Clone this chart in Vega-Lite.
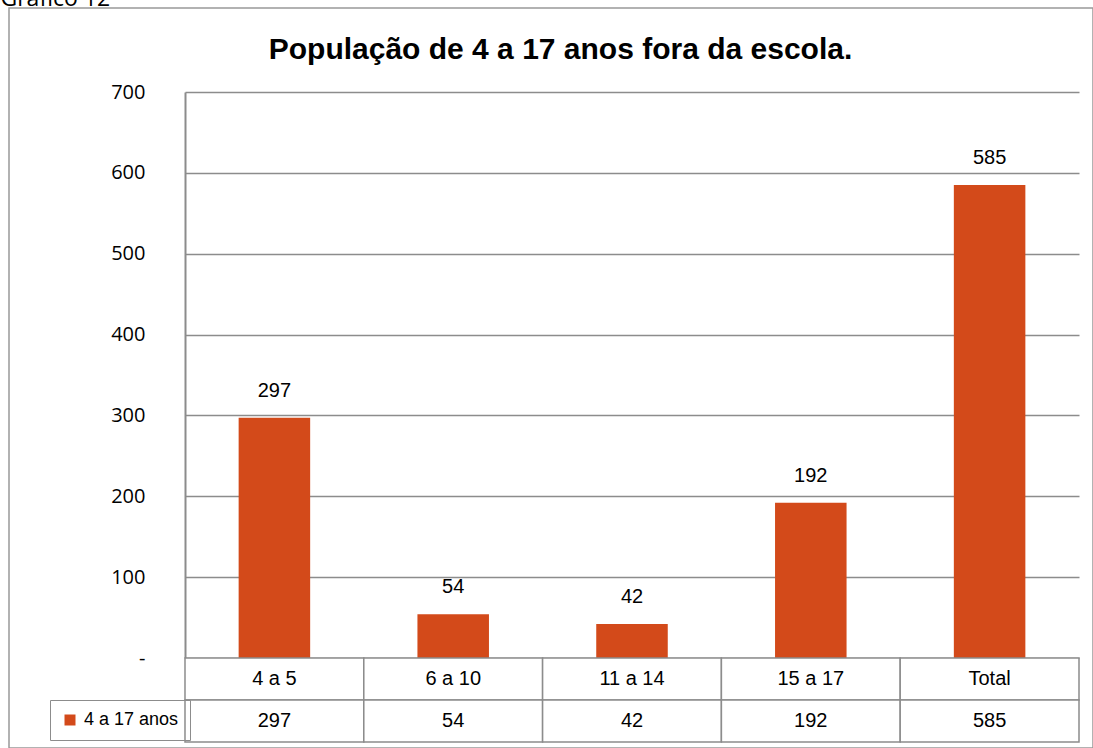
{
  "$schema": "https://vega.github.io/schema/vega-lite/v6.json",
  "autosize": {"type": "none"},
  "padding": {"left": 9, "top": 8, "right": 0, "bottom": 0},
  "width": 1084,
  "height": 740,
  "background": "white",
  "config": {
    "view": {"stroke": "#999999", "strokeWidth": 1.5},
    "text": {"font": "Liberation Sans, Arial, sans-serif"}
  },
  "data": {
    "values": [
      {"faixa": "4 a 5", "valor": 297, "serie": "4 a 17 anos"},
      {"faixa": "6 a 10", "valor": 54, "serie": "4 a 17 anos"},
      {"faixa": "11 a 14", "valor": 42, "serie": "4 a 17 anos"},
      {"faixa": "15 a 17", "valor": 192, "serie": "4 a 17 anos"},
      {"faixa": "Total", "valor": 585, "serie": "4 a 17 anos"}
    ]
  },
  "resolve": {"scale": {"y": "independent"}},
  "layer": [
    {
      "layer": [
        {
          "mark": {"type": "bar", "width": {"band": 0.4}},
          "encoding": {
            "x": {
              "field": "faixa",
              "type": "nominal",
              "sort": null,
              "scale": {
                "domain": ["4 a 5", "6 a 10", "11 a 14", "15 a 17", "Total"],
                "range": [176, 1070],
                "paddingInner": 0,
                "paddingOuter": 0
              },
              "axis": {
                "orient": "top",
                "title": "População de 4 a 17 anos fora da escola.",
                "labels": false,
                "ticks": false,
                "domain": false,
                "grid": false,
                "titleX": 551,
                "titleY": 50,
                "titleAlign": "center",
                "titleBaseline": "alphabetic",
                "titleFont": "Liberation Sans",
                "titleFontSize": 30,
                "titleFontWeight": "bold",
                "titleColor": "black"
              }
            },
            "y": {
              "field": "valor",
              "type": "quantitative",
              "scale": {"domain": [0, 700], "range": [650, 84], "nice": false},
              "axis": {
                "title": "Gráfico 12",
                "titleAngle": 0,
                "titleX": -185,
                "titleY": -3,
                "titleAlign": "left",
                "titleAnchor": null,
                "titleBaseline": "alphabetic",
                "titleFont": "Open Sans",
                "titleFontSize": 23,
                "titleFontWeight": "normal",
                "titleColor": "black",
                "values": [0, 100, 200, 300, 400, 500, 600, 700],
                "offset": -176,
                "ticks": false,
                "grid": true,
                "gridColor": "#8c8c8c",
                "gridWidth": 1.3,
                "domainColor": "#8c8c8c",
                "domainWidth": 2,
                "labelFont": "Open Sans",
                "labelFontSize": 20,
                "labelColor": "black",
                "labelPadding": 40,
                "labelExpr": "datum.value == 0 ? '-\u00a0' : datum.label"
              }
            },
            "color": {
              "field": "serie",
              "type": "nominal",
              "scale": {"range": ["#d34a1a"]},
              "legend": {
                "orient": "none",
                "legendX": 41,
                "legendY": 692,
                "title": null,
                "symbolType": "square",
                "symbolSize": 121,
                "symbolStrokeWidth": 0,
                "labelFont": "Liberation Sans, Arial, sans-serif",
                "labelFontSize": 18,
                "labelColor": "black",
                "labelOffset": 5,
                "padding": 11,
                "strokeColor": "#8c8c8c"
              }
            }
          }
        },
        {
          "mark": {"type": "text", "dy": -27, "baseline": "middle", "fontSize": 20, "color": "black"},
          "encoding": {
            "x": {"field": "faixa", "type": "nominal", "sort": null},
            "y": {"field": "valor", "type": "quantitative"},
            "text": {"field": "valor", "type": "quantitative"}
          }
        }
      ]
    },
    {
      "transform": [{"fold": ["faixa", "valor"], "as": ["linha", "celula"]}],
      "layer": [
        {
          "mark": {"type": "rect", "fill": "white", "stroke": "#8c8c8c", "strokeWidth": 1.5},
          "encoding": {
            "x": {"field": "faixa", "type": "nominal", "sort": null},
            "y": {
              "field": "linha",
              "type": "nominal",
              "scale": {"domain": ["faixa", "valor"], "range": [650, 734], "paddingInner": 0, "paddingOuter": 0},
              "axis": null
            }
          }
        },
        {
          "mark": {"type": "text", "baseline": "middle", "fontSize": 20, "color": "black"},
          "encoding": {
            "x": {"field": "faixa", "type": "nominal", "sort": null},
            "y": {"field": "linha", "type": "nominal"},
            "text": {"field": "celula", "type": "nominal"}
          }
        }
      ]
    }
  ]
}
